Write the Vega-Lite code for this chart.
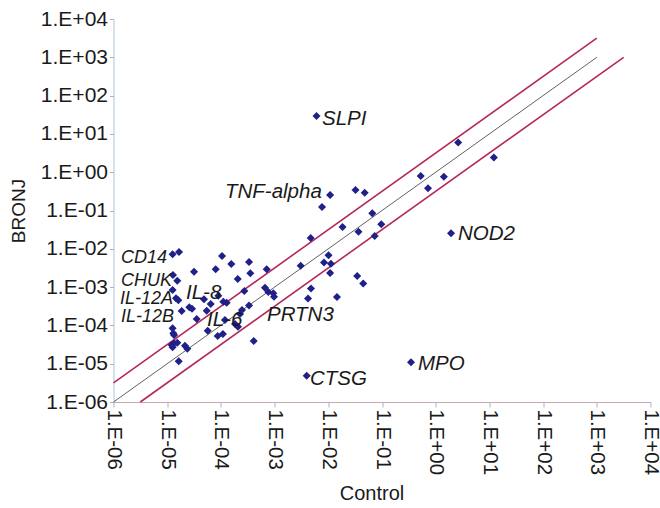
{
  "$schema": "https://vega.github.io/schema/vega-lite/v6.json",
  "width": 537,
  "height": 383,
  "autosize": "none",
  "padding": {"left": 113.5, "top": 19, "right": 10, "bottom": 106},
  "background": "white",
  "config": {"view": {"stroke": null}, "font": "Liberation Sans"},
  "datasets": {
    "points": [
      {"control": 1.26e-5, "bronj": 7.18e-3},
      {"control": 1.66e-5, "bronj": 8.24e-3},
      {"control": 1.28e-5, "bronj": 2.07e-3},
      {"control": 1.54e-5, "bronj": 1.47e-3},
      {"control": 1.26e-5, "bronj": 8.4e-4},
      {"control": 1.46e-5, "bronj": 5.1e-4},
      {"control": 1.61e-5, "bronj": 4.52e-4},
      {"control": 1.86e-5, "bronj": 2.38e-4},
      {"control": 2.58e-5, "bronj": 2.97e-4},
      {"control": 2.90e-5, "bronj": 2.73e-4},
      {"control": 3.16e-5, "bronj": 2.52e-3},
      {"control": 3.54e-5, "bronj": 1.47e-4},
      {"control": 1.26e-5, "bronj": 8.4e-5},
      {"control": 1.30e-5, "bronj": 6.22e-5},
      {"control": 1.34e-5, "bronj": 5.61e-5},
      {"control": 1.21e-5, "bronj": 3.08e-5},
      {"control": 1.34e-5, "bronj": 3.41e-5},
      {"control": 1.54e-5, "bronj": 3.53e-5},
      {"control": 1.26e-5, "bronj": 2.68e-5},
      {"control": 2.14e-5, "bronj": 2.95e-5},
      {"control": 2.37e-5, "bronj": 2.47e-5},
      {"control": 1.64e-5, "bronj": 1.16e-5},
      {"control": 4.84e-5, "bronj": 4.80e-4},
      {"control": 5.44e-5, "bronj": 2.42e-4},
      {"control": 6.46e-5, "bronj": 3.62e-4},
      {"control": 5.68e-5, "bronj": 7.28e-5},
      {"control": 8.0e-5, "bronj": 2.92e-3},
      {"control": 1.05e-4, "bronj": 6.49e-3},
      {"control": 8.95e-5, "bronj": 5.96e-4},
      {"control": 1.11e-4, "bronj": 4.16e-4},
      {"control": 1.28e-4, "bronj": 3.92e-4},
      {"control": 1.19e-4, "bronj": 1.38e-4},
      {"control": 8.71e-5, "bronj": 5.28e-5},
      {"control": 1.09e-4, "bronj": 5.96e-5},
      {"control": 1.56e-4, "bronj": 4.01e-3},
      {"control": 2.06e-4, "bronj": 1.63e-3},
      {"control": 1.83e-4, "bronj": 1.09e-4},
      {"control": 2.08e-4, "bronj": 9.25e-5},
      {"control": 2.73e-4, "bronj": 7.91e-4},
      {"control": 2.47e-4, "bronj": 2.52e-4},
      {"control": 2.27e-4, "bronj": 1.99e-4},
      {"control": 3.34e-4, "bronj": 3.31e-4},
      {"control": 3.34e-4, "bronj": 4.52e-3},
      {"control": 3.53e-4, "bronj": 2.29e-3},
      {"control": 4.08e-4, "bronj": 3.92e-5},
      {"control": 7.13e-4, "bronj": 2.92e-3},
      {"control": 6.62e-4, "bronj": 9.64e-4},
      {"control": 7.64e-4, "bronj": 7.45e-4},
      {"control": 9.46e-4, "bronj": 6.89e-4},
      {"control": 9.75e-4, "bronj": 5.61e-4},
      {"control": 3.06e-3, "bronj": 3.62e-3},
      {"control": 4.70e-3, "bronj": 1.91e-2},
      {"control": 7.64e-3, "bronj": 0.123},
      {"control": 1.08e-2, "bronj": 0.254, "gene": "TNF-alpha"},
      {"control": 6.03e-3, "bronj": 29.3, "gene": "SLPI"},
      {"control": 1.01e-2, "bronj": 6.76e-3},
      {"control": 8.32e-3, "bronj": 4.39e-3},
      {"control": 1.12e-2, "bronj": 4.08e-3},
      {"control": 1.08e-2, "bronj": 2.33e-3},
      {"control": 4.76e-3, "bronj": 9.18e-4},
      {"control": 4.19e-3, "bronj": 5.04e-4},
      {"control": 1.45e-2, "bronj": 5.52e-4},
      {"control": 1.84e-2, "bronj": 3.71e-2},
      {"control": 3.21e-2, "bronj": 0.343},
      {"control": 4.76e-2, "bronj": 0.292},
      {"control": 3.65e-2, "bronj": 2.79e-2},
      {"control": 6.59e-2, "bronj": 8.45e-2},
      {"control": 9.7e-2, "bronj": 4.39e-2},
      {"control": 7.31e-2, "bronj": 2.16e-2},
      {"control": 3.45e-2, "bronj": 1.95e-3},
      {"control": 4.47e-2, "bronj": 1.24e-3},
      {"control": 0.526, "bronj": 0.796},
      {"control": 0.719, "bronj": 0.380},
      {"control": 1.42, "bronj": 0.759},
      {"control": 2.62, "bronj": 5.96},
      {"control": 12.1, "bronj": 2.42},
      {"control": 1.93, "bronj": 2.54e-2, "gene": "NOD2"},
      {"control": 0.347, "bronj": 1.09e-5, "gene": "MPO"},
      {"control": 3.96e-3, "bronj": 4.86e-6, "gene": "CTSG"}
    ],
    "lines": [
      {"series": "center", "control": 1e-6, "bronj": 1e-6},
      {"series": "center", "control": 1e3, "bronj": 1e3},
      {"series": "upper", "control": 1e-6, "bronj": 3.16e-6},
      {"series": "upper", "control": 1e3, "bronj": 3.16e3},
      {"series": "lower", "control": 3.16e-6, "bronj": 1e-6},
      {"series": "lower", "control": 3.16e3, "bronj": 1e3}
    ],
    "labels": [
      {"gene": "SLPI", "control": 7.64e-3, "bronj": 17.1},
      {"gene": "TNF-alpha", "control": 1.19e-4, "bronj": 0.212},
      {"gene": "NOD2", "control": 2.60, "bronj": 1.70e-2},
      {"gene": "MPO", "control": 0.468, "bronj": 6.85e-6},
      {"gene": "CTSG", "control": 4.56e-3, "bronj": 2.78e-6},
      {"gene": "PRTN3", "control": 7.21e-4, "bronj": 1.30e-4},
      {"gene": "IL-6", "control": 5.51e-5, "bronj": 9.64e-5},
      {"gene": "IL-8", "control": 2.24e-5, "bronj": 4.89e-4},
      {"gene": "CD14", "control": 1.38e-6, "bronj": 4.34e-3},
      {"gene": "CHUK", "control": 1.38e-6, "bronj": 1.07e-3},
      {"gene": "IL-12A", "control": 1.32e-6, "bronj": 3.73e-4},
      {"gene": "IL-12B", "control": 1.38e-6, "bronj": 1.25e-4}
    ]
  },
  "encoding": {
    "x": {
      "field": "control", "type": "quantitative",
      "scale": {"type": "log", "domain": [1e-6, 1e4], "nice": false},
      "axis": {
        "title": "Control",
        "values": [1e-6, 1e-5, 1e-4, 1e-3, 1e-2, 1e-1, 1, 10, 100, 1000, 10000],
        "labelExpr": "'1.E' + (datum.value >= 1 ? '+' : '-') + (abs(round(log(datum.value)/LN10)) < 10 ? '0' : '') + abs(round(log(datum.value)/LN10))",
        "labelAngle": 90,
        "labelFontSize": 20.5,
        "labelColor": "#1a1a1a",
        "labelFont": "Liberation Sans",
        "labelPadding": 2,
        "labelOverlap": false,
        "labelFlush": false,
        "tickSize": 5,
        "tickColor": "#a8b4c4",
        "domainColor": "#c8a8b0",
        "grid": false,
        "titleFontSize": 20,
        "titleFontWeight": "normal",
        "titleColor": "#1a1a1a",
        "titleFont": "Liberation Sans",
        "titlePadding": 9,
        "titleX": 258
      }
    },
    "y": {
      "field": "bronj", "type": "quantitative",
      "scale": {"type": "log", "domain": [1e-6, 1e4], "nice": false},
      "axis": {
        "title": "BRONJ",
        "values": [1e-6, 1e-5, 1e-4, 1e-3, 1e-2, 1e-1, 1, 10, 100, 1000, 10000],
        "labelExpr": "'1.E' + (datum.value >= 1 ? '+' : '-') + (abs(round(log(datum.value)/LN10)) < 10 ? '0' : '') + abs(round(log(datum.value)/LN10))",
        "labelFontSize": 21,
        "labelColor": "#1a1a1a",
        "labelFont": "Liberation Sans",
        "labelPadding": 2,
        "labelOverlap": false,
        "labelFlush": false,
        "tickSize": 4,
        "tickColor": "#c0a8b0",
        "domainColor": "#b0c4d6",
        "grid": false,
        "titleFontSize": 19,
        "titleFontWeight": "normal",
        "titleColor": "#1a1a1a",
        "titleFont": "Liberation Sans",
        "titlePadding": 12
      }
    }
  },
  "layer": [
    {
      "data": {"name": "lines"},
      "transform": [{"filter": "datum.series !== 'center'"}],
      "mark": {"type": "line", "color": "#b5285c", "strokeWidth": 1.6},
      "encoding": {"detail": {"field": "series"}}
    },
    {
      "data": {"name": "lines"},
      "transform": [{"filter": "datum.series === 'center'"}],
      "mark": {"type": "line", "color": "#3a3a3a", "strokeWidth": 0.8},
      "encoding": {}
    },
    {
      "data": {"name": "points"},
      "mark": {"type": "point", "shape": "diamond", "filled": true, "color": "#1f2088", "size": 65, "opacity": 1}
    },
    {
      "data": {"name": "labels"},
      "transform": [{"filter": {"field": "gene", "oneOf": ["CD14", "CHUK", "IL-12A", "IL-12B"]}}],
      "mark": {"type": "text", "align": "left", "baseline": "alphabetic", "fontStyle": "italic", "fontSize": 18, "font": "Liberation Sans", "color": "#1a1a1a"},
      "encoding": {"text": {"field": "gene"}}
    },
    {
      "data": {"name": "labels"},
      "transform": [{"filter": {"not": {"field": "gene", "oneOf": ["CD14", "CHUK", "IL-12A", "IL-12B"]}}}],
      "mark": {"type": "text", "align": "left", "baseline": "alphabetic", "fontStyle": "italic", "fontSize": 20.5, "font": "Liberation Sans", "color": "#1a1a1a"},
      "encoding": {"text": {"field": "gene"}}
    }
  ]
}
